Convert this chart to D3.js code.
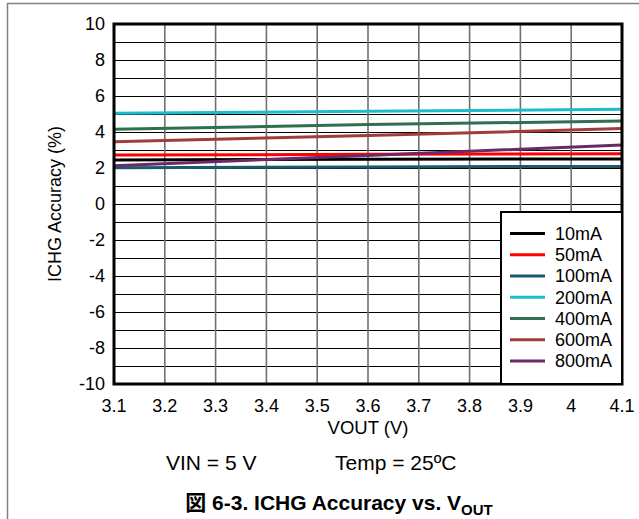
<!DOCTYPE html>
<html>
<head>
<meta charset="utf-8">
<script src="https://cdn.jsdelivr.net/npm/d3@7"></script>
<style>
  body { margin: 0; background: #fff; }
  text { font-family: "Liberation Sans", Arial, "Noto Sans CJK JP", sans-serif; }
</style>
</head>
<body>
<div id="chart"></div>
<script>
const vout = [3.1, 3.6, 4.1]
const seriesNames = ["10mA", "50mA", "100mA", "200mA", "400mA", "600mA", "800mA"]
const seriesColors = ["#000000", "#ff0000", "#1b5a6b", "#1cbccc", "#2e7050", "#a03c3c", "#6a2a68"]
const acc10 = [2.45, 2.49, 2.5]
const acc50 = [2.72, 2.76, 2.79]
const acc100 = [2.02, 2.06, 2.09]
const acc200 = [5.04, 5.15, 5.26]
const acc400 = [4.15, 4.41, 4.61]
const acc600 = [3.46, 3.8, 4.19]
const acc800 = [2.13, 2.7, 3.28]
const xTicks = [3.1, 3.2, 3.3, 3.4, 3.5, 3.6, 3.7, 3.8, 3.9, 4, 4.1]
const yTicks = [-10, -8, -6, -4, -2, 0, 2, 4, 6, 8, 10]
const allSeries = [acc10, acc50, acc100, acc200, acc400, acc600, acc800]

const W = 639, H = 519
const pLeft = 114, pRight = 622, pTop = 24, pBottom = 384

const svg = d3.select('#chart').append('svg').attr('width', W).attr('height', H)

// outer frame
svg.append('path').attr('d', `M7.5,${H} V3.5 H${W}`)
  .attr('fill', 'none').attr('stroke', '#808080').attr('stroke-width', 1.5)

const x = d3.scaleLinear().domain([3.1, 4.1]).range([pLeft, pRight])
const y = d3.scaleLinear().domain([-10, 10]).range([pBottom, pTop])

// grid
svg.append('g').selectAll('line').data(d3.range(-10, 11, 1)).join('line')
  .attr('x1', pLeft).attr('x2', pRight)
  .attr('y1', d => Math.round(y(d)) + 0.5).attr('y2', d => Math.round(y(d)) + 0.5)
  .attr('stroke', '#000').attr('stroke-width', 1.2)
svg.append('g').selectAll('line').data(xTicks).join('line')
  .attr('y1', pTop).attr('y2', pBottom)
  .attr('x1', d => x(d)).attr('x2', d => x(d))
  .attr('stroke', '#707070').attr('stroke-width', 1.6)

// series
const line = d3.line().x((d, i) => x(vout[i])).y(d => y(d))
svg.append('g').selectAll('path').data(allSeries).join('path')
  .attr('d', d => line(d))
  .attr('fill', 'none')
  .attr('stroke', (d, i) => seriesColors[i])
  .attr('stroke-width', 3)

// plot border
svg.append('rect').attr('x', pLeft).attr('y', pTop)
  .attr('width', pRight - pLeft).attr('height', pBottom - pTop)
  .attr('fill', 'none').attr('stroke', '#000').attr('stroke-width', 3)

// axes labels
svg.append('g').selectAll('text').data(yTicks).join('text')
  .attr('x', 105).attr('y', d => y(d)).attr('dy', '0.35em')
  .attr('text-anchor', 'end').attr('font-size', 18).text(d => d)
svg.append('g').selectAll('text').data(xTicks).join('text')
  .attr('x', d => x(d)).attr('y', 406).attr('dy', '0.35em')
  .attr('text-anchor', 'middle').attr('font-size', 18).text(d => d)

svg.append('text').attr('x', (pLeft + pRight) / 2).attr('y', 428).attr('dy', '0.35em')
  .attr('text-anchor', 'middle').attr('font-size', 18.5).text('VOUT (V)')
svg.append('text')
  .attr('transform', `translate(55,${(pTop + pBottom) / 2}) rotate(-90)`)
  .attr('dy', '0.35em').attr('text-anchor', 'middle').attr('font-size', 18)
  .text('ICHG Accuracy (%)')

svg.append('text').attr('x', 166).attr('y', 463).attr('dy', '0.35em')
  .attr('font-size', 21).text('VIN = 5 V')
svg.append('text').attr('x', 335).attr('y', 463).attr('dy', '0.35em')
  .attr('font-size', 21).text('Temp = 25ºC')

const title = svg.append('text').attr('x', 339).attr('y', 503).attr('dy', '0.35em')
  .attr('text-anchor', 'middle').attr('font-size', 21).attr('font-weight', 'bold')
title.append('tspan').text('図 6-3. ICHG Accuracy vs. V')
title.append('tspan').attr('font-size', 15).attr('dy', 5).text('OUT')

// legend
const lg = svg.append('g')
lg.append('rect').attr('x', 501).attr('y', 212).attr('width', pRight - 501).attr('height', pBottom - 212)
  .attr('fill', '#fff').attr('stroke', '#000').attr('stroke-width', 2)
const rowY = d3.scaleLinear().domain([0, 6]).range([233.5, 361])
const items = lg.selectAll('g').data(seriesNames).join('g')
  .attr('transform', (d, i) => `translate(0,${rowY(i)})`)
items.append('line').attr('x1', 510).attr('x2', 545)
  .attr('stroke', (d, i) => seriesColors[i]).attr('stroke-width', 3)
items.append('text').attr('x', 555).attr('dy', '0.35em').attr('font-size', 18).text(d => d)
</script>
</body>
</html>
